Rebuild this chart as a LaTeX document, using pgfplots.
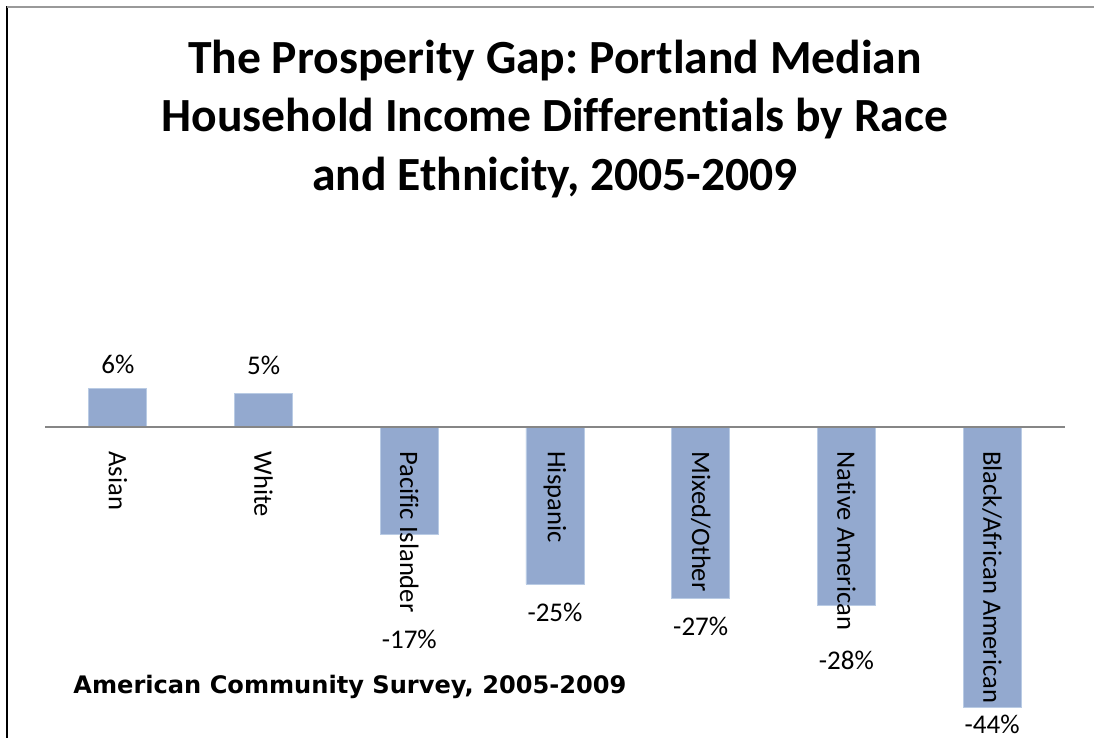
\documentclass[border=0pt]{standalone}
\usepackage{pgfplots}
\pgfplotsset{compat=1.18}
\usepackage{pgfplotstable}
\usepackage{fontspec}
\setmainfont{Carlito}[Ligatures=NoCommon]
\newfontfamily\verd{DejaVu Sans}
\definecolor{barfill}{RGB}{147,169,207}
\definecolor{baredge}{RGB}{185,203,228}
\definecolor{zeroline}{RGB}{134,134,134}
\pgfplotstableread{
x y ly lab
0 6.0 9.9 6
1 5.3 9.6 5
2 -16.8 -33.3 -17
3 -24.7 -29.2 -25
4 -27.0 -31.4 -27
5 -28.1 -36.6 -28
6 -44.0 -46.8 -44
}\data
\begin{document}
\frenchspacing
\begin{tikzpicture}
\useasboundingbox (0,0) rectangle (547bp,-369bp);
\draw[black, line width=1bp] (3.5bp,-3bp) -- (3.5bp,-369bp);
\draw[gray!80, line width=1bp] (3.5bp,-3.5bp) -- (547bp,-3.5bp);
\node[anchor=base, inner sep=0pt, font=\bfseries\fontsize{23.8bp}{29bp}\selectfont] at (277.5bp,-36.5bp) {The Prosperity Gap: Portland Median};
\node[anchor=base, inner sep=0pt, font=\bfseries\fontsize{23.8bp}{29bp}\selectfont] at (277.5bp,-65.5bp) {Household Income Differentials by Race};
\node[anchor=base, inner sep=0pt, font=\bfseries\fontsize{23.8bp}{29bp}\selectfont] at (277.5bp,-95bp) {and Ethnicity, 2005-2009};
\node[anchor=base west, inner sep=0pt, font=\verd\bfseries\fontsize{12.05bp}{14bp}\selectfont] at (36.5bp,-346.5bp) {American Community Survey, 2005-2009};
\begin{axis}[
  at={(22.5bp,-366.25bp)}, anchor=south west,
  scale only axis, width=510bp, height=184.6bp,
  xmin=-0.5, xmax=6.5, ymin=-48, ymax=10,
  axis on top,
  axis x line=middle, axis y line=none,
  x axis line style={-, draw=zeroline, line width=1bp},
  xtick={0,1,2,3,4,5,6},
  xticklabels={Asian, White, Pacific Islander, Hispanic, Mixed/Other, Native American, Black/African American},
  major tick length=0pt,
  xticklabel shift=12bp,
  xticklabel style={rotate=-90, anchor=west, inner sep=0pt, font=\fontsize{13.3bp}{15bp}\selectfont},
  ytick=\empty,
  clip=false,
]
\addplot[ybar, bar width=29bp, fill=barfill, draw=baredge, line width=0.4bp] table[x=x, y=y] {\data};
\addplot[draw=none, mark=none, point meta=explicit symbolic,
  nodes near coords={\pgfplotspointmeta\%},
  nodes near coords align={center},
  every node near coord/.append style={anchor=center, inner sep=0pt, font=\fontsize{13.5bp}{15bp}\selectfont}]
  table[x=x, y=ly, meta=lab] {\data};
\end{axis}
\end{tikzpicture}
\end{document}
